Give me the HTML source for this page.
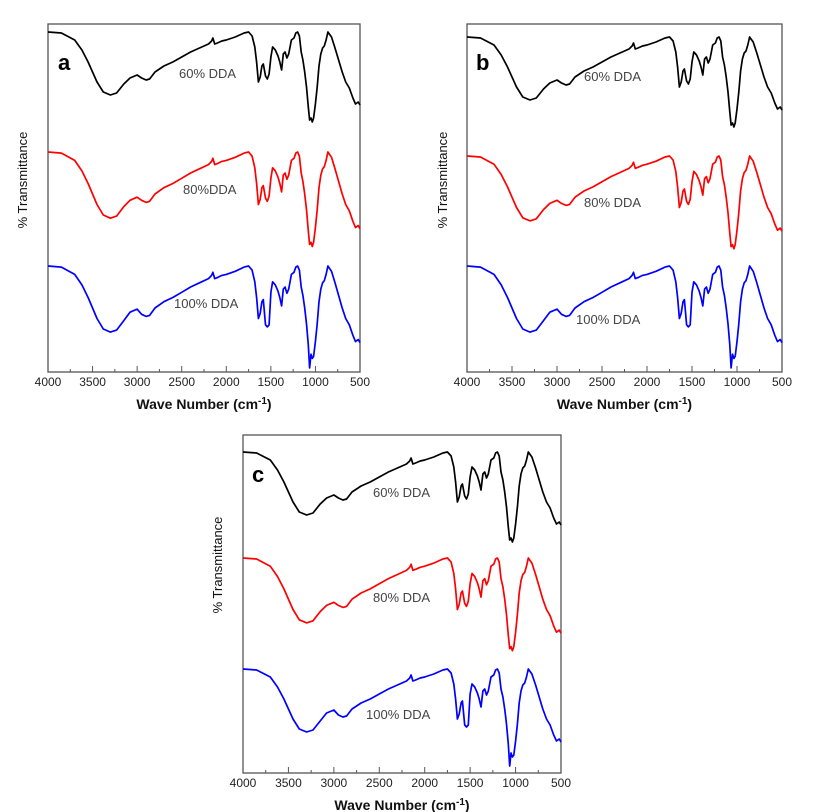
<!DOCTYPE html>
<html><head><meta charset="utf-8"><style>
html,body{margin:0;padding:0;background:#fff;width:818px;height:812px;overflow:hidden}
text{font-family:"Liberation Sans",Arial,sans-serif}
</style></head><body>
<svg id="s" width="818" height="812" xmlns="http://www.w3.org/2000/svg"></svg>
<script>
var T=[[4000,0],[3850,1],[3700,8],[3620,18],[3550,30],[3450,50],[3380,60],[3300,63],[3230,61],[3150,52],[3080,46],[3000,43],[2950,46],[2900,48],[2860,47],[2800,40],[2700,34],[2600,30],[2500,25],[2400,20],[2300,16],[2200,12],[2165,9],[2150,6],[2130,12],[2100,11],[2050,9],[2000,8],[1900,5],[1800,1],[1750,0],[1710,4],[1680,15],[1660,30],[1640,50],[1620,45],[1600,34],[1585,32],[1560,44],[1540,47],[1520,42],[1500,25],[1480,15],[1450,18],[1420,24],[1400,30],[1380,38],[1360,22],[1340,20],[1320,26],[1300,22],[1270,8],[1240,6],[1220,1],[1200,0],[1180,4],[1160,20],[1140,28],[1120,40],[1100,55],[1080,75],[1065,88],[1050,86],[1035,90],[1020,86],[1000,72],[980,55],[960,34],[940,22],[920,16],[900,14],[880,8],[860,0],[820,5],[780,16],[740,28],[700,40],[660,50],[620,56],[580,66],[550,72],[520,70],[500,73]];
var Tb=T.map(function(p){var w=p[0],d=p[1];
 if(w<=1560&&w>=1510)d=d+12;
 if(w==1540)d=58; if(w==1520)d=56;
 if(w==1065)d=97; if(w==1050)d=84; if(w==1035)d=88;
 if(w<=3100&&w>=3000)d=d-2;
 return [w,d];});
var s=document.getElementById('s'),h='';
function panel(L,R,Tp,B,letter,lx,ly,curves,ylab,labels){
 h+='<rect x="'+L+'" y="'+Tp+'" width="'+(R-L)+'" height="'+(B-Tp)+'" fill="none" stroke="#555" stroke-width="1.3"/>';
 function X(w){return L+(4000-w)/3500*(R-L);}
 for(var w=4000;w>=500;w-=250){var x=X(w);var big=w%500==0;
  h+='<line x1="'+x+'" y1="'+B+'" x2="'+x+'" y2="'+(B-(big?6:3))+'" stroke="#555" stroke-width="1"/>';
  if(big)h+='<text x="'+x+'" y="'+(B+14)+'" font-size="12" text-anchor="middle" fill="#222">'+w+'</text>';}
 h+='<text x="'+((L+R)/2)+'" y="'+(B+37)+'" font-size="14" font-weight="bold" text-anchor="middle" fill="#111">Wave Number (cm<tspan dy="-5" font-size="10">-1</tspan><tspan dy="5">)</tspan></text>';
 h+='<text transform="translate('+ylab[0]+','+ylab[1]+') rotate(-90)" font-size="13" text-anchor="middle" fill="#111">% Transmittance</text>';
 h+='<text x="'+lx+'" y="'+ly+'" font-size="22" font-weight="bold" fill="#000">'+letter+'</text>';
 curves.forEach(function(c){var t=c[3]||T,d='';
  t.forEach(function(p,i){d+=(i?'L':'M')+X(p[0]).toFixed(1)+' '+(c[1]+p[1]*c[2]).toFixed(1);});
  h+='<path d="'+d+'" fill="none" stroke="'+c[0]+'" stroke-width="1.7" stroke-linejoin="round"/>';});
 labels.forEach(function(l){h+='<text x="'+l[0]+'" y="'+l[1]+'" font-size="13" fill="#444">'+l[2]+'</text>';});
}
panel(48,360,24,372,'a',58,70,[['#000',32,1.0],['#f00',152,1.05],['#00f',266,1.05,Tb]],[27,180],[[179,78,'60% DDA'],[183,194,'80%DDA'],[174,308,'100% DDA']]);
panel(467,782,24,372,'b',476,70,[['#000',37,1.0],['#f00',156,1.03],['#00f',266,1.05,Tb]],[447,180],[[584,81,'60% DDA'],[584,207,'80% DDA'],[576,324,'100% DDA']]);
panel(243,561,435,773,'c',252,482,[['#000',452,1.0],['#f00',558,1.03],['#00f',669,1.0,Tb]],[222,565],[[373,497,'60% DDA'],[373,602,'80% DDA'],[366,719,'100% DDA']]);
s.innerHTML=h;
</script>
</body></html>
